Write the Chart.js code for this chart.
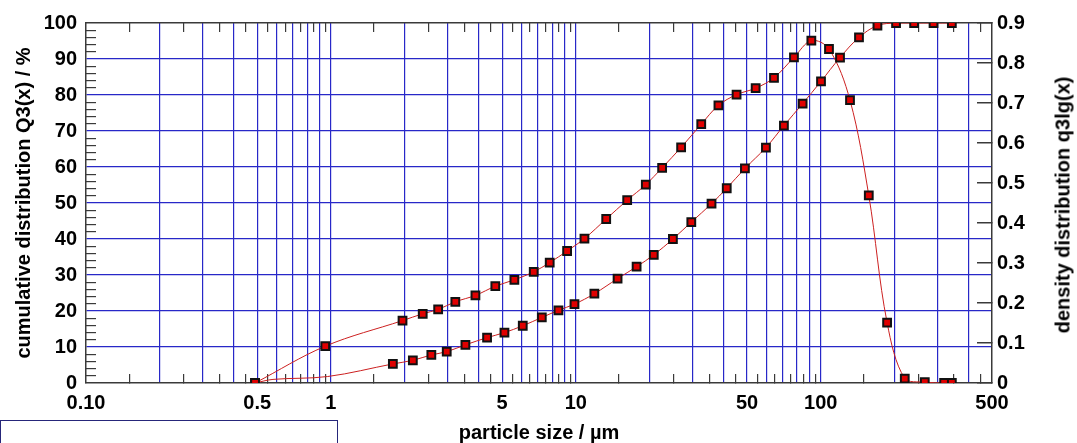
<!DOCTYPE html>
<html>
<head>
<meta charset="utf-8">
<script src="https://cdn.jsdelivr.net/npm/chart.js@4.4.1/dist/chart.umd.min.js"></script>
<style>
  html, body { margin: 0; padding: 0; background: #fff; }
  #wrap { position: relative; width: 1077px; height: 443px; overflow: hidden; font-family: "Liberation Sans", Arial, sans-serif; }
  #box { position: absolute; left: 0; top: 420px; width: 338px; height: 40px; border: 1px solid #26267a; box-sizing: border-box; }
  #rtitle { position: absolute; left: 1063px; top: 205px; transform: translate(-50%, -50%) rotate(-90deg); white-space: nowrap; font-weight: bold; font-size: 20px; color: #000; }
</style>
</head>
<body>
<div id="wrap">
  <canvas id="psd"></canvas>
  <div id="box"></div>
  <div id="rtitle">density distribution q3lg(x)</div>
</div>
<script>
"use strict";

// particle size (µm) and cumulative distribution Q3 (%)
const cumX = [0.49, 0.58, 0.97, 1.79, 2.16, 2.57, 2.97, 3.54, 4.34, 5.11, 6.07, 7.26, 8.49, 9.87, 11.9, 14.8, 17.7, 20.8, 24.9, 29.6, 35.8, 41.3, 49.0, 59.7, 70.7, 84.3, 100.2, 119.8, 143.2, 170.3, 202.9, 240.4, 288.6, 342.8];
const cumY = [0, 1.0, 1.8, 5.3, 6.3, 7.8, 8.7, 10.6, 12.6, 14.0, 15.9, 18.2, 20.2, 21.9, 24.8, 29.0, 32.3, 35.6, 40.0, 44.7, 49.8, 54.1, 59.6, 65.4, 71.5, 77.6, 83.8, 90.4, 96.0, 99.3, 100, 100, 100, 100];
// curve nodes of Q3 that carry no marker in the picture
const cumNoMarker = [0.58, 0.97];

// particle size (µm) and density distribution q3lg
const densX = [0.49, 0.948, 1.96, 2.37, 2.74, 3.22, 3.89, 4.69, 5.61, 6.73, 7.82, 9.21, 10.84, 13.3, 16.2, 19.3, 22.5, 26.9, 32.5, 38.2, 45.3, 54.2, 64.4, 77.7, 91.5, 108, 131.6, 157, 186.5, 220.2, 265.8, 318.8, 342.8];
const densY = [0, 0.092, 0.156, 0.173, 0.184, 0.203, 0.219, 0.242, 0.258, 0.278, 0.301, 0.33, 0.361, 0.41, 0.457, 0.496, 0.538, 0.589, 0.647, 0.694, 0.721, 0.737, 0.763, 0.814, 0.856, 0.835, 0.707, 0.469, 0.151, 0.011, 0.002, 0, 0];

// x axis: labelled values, grid lines, small inner ticks
const xLabelValues = [0.1, 0.5, 1, 5, 10, 50, 100, 500];
const xLabelTexts = ['0.10', '0.5', '1', '5', '10', '50', '100', '500'];
const xGridValues = [0.2, 0.3, 0.4, 0.5, 0.6, 0.7, 0.8, 0.9, 1, 2, 3, 4, 5, 6, 7, 8, 9, 10, 20, 30, 40, 50, 60, 70, 80, 90, 100, 200, 300, 400];
const xMinorValues = [0.15, 0.25, 0.35, 0.45, 0.55, 0.65, 0.75, 0.85, 0.95, 1.5, 2.5, 3.5, 4.5, 5.5, 6.5, 7.5, 8.5, 9.5, 15, 25, 35, 45, 55, 65, 75, 85, 95, 150, 250, 350, 450];

const GRID = '#2828c8';
const FRAME = '#3a3a3a';

const has = (arr, v) => arr.some(a => Math.abs(a - v) < 1e-6 * Math.max(1, a));
const toTicks = (arr) => arr.slice().sort((a, b) => a - b).map(v => ({ value: v }));
const noPad = (s) => { s.paddingTop = 0; s.paddingBottom = 0; s.paddingLeft = 0; s.paddingRight = 0; };

Chart.defaults.font.family = '"Liberation Sans", Arial, sans-serif';
Chart.defaults.color = '#000';

const ctx = document.getElementById('psd');
ctx.width = 1077;
ctx.height = 443;

const lineStyle = {
    borderColor: '#cc2020',
    borderWidth: 1,
    pointStyle: 'rect',
    pointBorderWidth: 2,
    pointBorderColor: '#111',
    pointBackgroundColor: '#e00000',
    tension: 0.35,
    fill: false
};

new Chart(ctx, {
    type: 'line',
    data: {
        datasets: [
            Object.assign({}, lineStyle, {
                label: 'Q3(x)',
                data: cumX.map((x, i) => ({ x: x, y: cumY[i] })),
                pointRadius: cumX.map(x => (has(cumNoMarker, x) ? 0 : 5.5)),
                yAxisID: 'y'
            }),
            Object.assign({}, lineStyle, {
                label: 'q3lg(x)',
                data: densX.map((x, i) => ({ x: x, y: densY[i] })),
                pointRadius: 5.5,
                yAxisID: 'y2'
            })
        ]
    },
    options: {
        responsive: false,
        animation: false,
        layout: { padding: 0 },
        plugins: { legend: { display: false }, tooltip: { enabled: false } },
        scales: {
            x: {
                type: 'logarithmic',
                position: 'bottom',
                min: 0.1,
                max: 500,
                afterBuildTicks: (s) => { s.ticks = toTicks([...xLabelValues, ...xGridValues.filter(v => !has(xLabelValues, v)), ...xMinorValues]); },
                afterFit: (s) => { s.height = 60; noPad(s); },
                ticks: {
                    autoSkip: false,
                    maxRotation: 0,
                    padding: 17,
                    font: { size: 20, weight: 'bold' },
                    callback: (v) => {
                        const i = xLabelValues.findIndex(a => Math.abs(a - v) < 1e-6 * Math.max(1, a));
                        return i >= 0 ? xLabelTexts[i] : '';
                    }
                },
                grid: {
                    color: (c) => (has(xGridValues, c.tick.value) ? GRID : 'rgba(0,0,0,0)'),
                    tickColor: (c) => (has(xMinorValues, c.tick.value) ? FRAME : 'rgba(0,0,0,0)'),
                    lineWidth: 1.2,
                    tickLength: -9
                },
                border: { color: FRAME, width: 1.5 },
                title: {
                    display: true,
                    text: 'particle size / µm',
                    font: { size: 20, weight: 'bold' },
                    padding: { top: 0, bottom: -2 }
                }
            },
            xTop: {
                axis: 'x',
                type: 'logarithmic',
                position: 'top',
                min: 0.1,
                max: 500,
                afterBuildTicks: (s) => { s.ticks = toTicks(xMinorValues); },
                afterFit: (s) => { s.height = 23; noPad(s); },
                ticks: { display: false, autoSkip: false },
                grid: { drawOnChartArea: false, tickColor: FRAME, tickLength: -9, lineWidth: 1.2 },
                border: { color: FRAME, width: 1.5 }
            },
            y: {
                type: 'linear',
                position: 'left',
                min: 0,
                max: 100,
                afterBuildTicks: (s) => {
                    const t = [];
                    for (let v = 0; v <= 100; v += 2) t.push({ value: v });
                    s.ticks = t;
                },
                afterFit: (s) => { s.width = 86; noPad(s); },
                ticks: {
                    autoSkip: false,
                    padding: 19,
                    font: { size: 20, weight: 'bold' },
                    callback: (v) => (v % 10 === 0 ? String(v) : '')
                },
                grid: {
                    color: (c) => (c.tick.value % 10 === 0 && c.tick.value > 0 && c.tick.value < 100 ? GRID : 'rgba(0,0,0,0)'),
                    tickColor: (c) => (c.tick.value % 10 !== 0 ? FRAME : 'rgba(0,0,0,0)'),
                    lineWidth: 1.2,
                    tickLength: -10
                },
                border: { color: FRAME, width: 1.5 },
                title: {
                    display: true,
                    text: 'cumulative distribution Q3(x) / %',
                    font: { size: 20, weight: 'bold' },
                    padding: { top: 12, bottom: 0 }
                }
            },
            y2: {
                type: 'linear',
                position: 'right',
                min: 0,
                max: 0.9,
                ticks: {
                    stepSize: 0.1,
                    autoSkip: false,
                    padding: 20,
                    font: { size: 20, weight: 'bold' },
                    callback: (v) => (Math.abs(v) < 1e-9 ? '0' : v.toFixed(1))
                },
                afterFit: (s) => { s.width = 85; noPad(s); },
                grid: { drawOnChartArea: false, tickColor: FRAME, tickLength: -15, lineWidth: 1.5 },
                border: { color: FRAME, width: 1.5 }
            }
        }
    }
});
</script>
</body>
</html>
